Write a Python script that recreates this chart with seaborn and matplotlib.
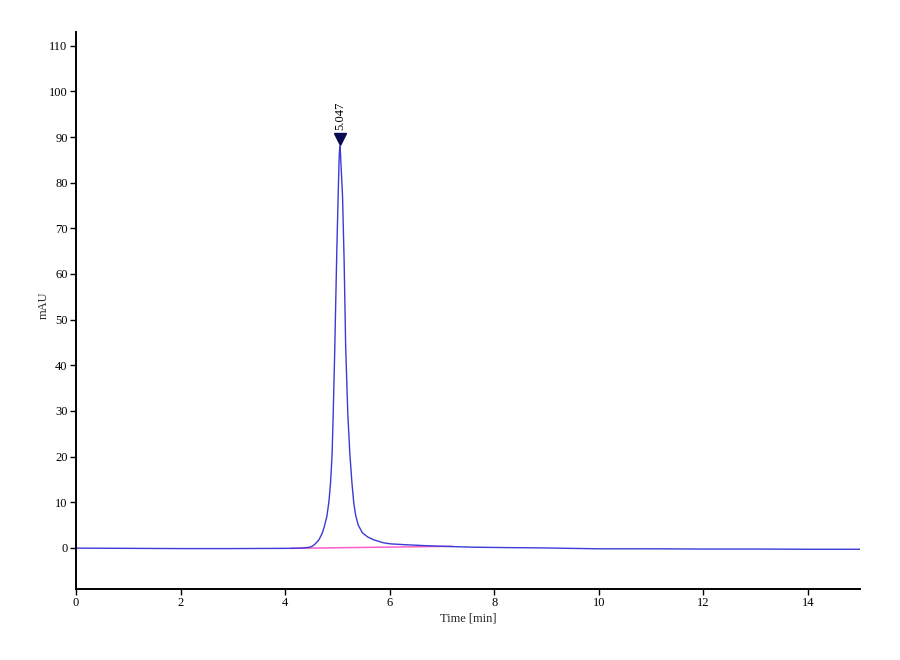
import matplotlib
matplotlib.use("Agg")
import matplotlib.pyplot as plt
import seaborn as sns
import pandas as pd

# chromatogram trace (time in min, signal in mAU)
time_min = [0, 1, 2, 3, 4, 4.3, 4.45, 4.52, 4.58, 4.65, 4.71, 4.75, 4.80, 4.84,
            4.87, 4.90, 4.92, 4.95, 4.97, 4.99, 5.02, 5.035, 5.047, 5.06, 5.07,
            5.10, 5.13, 5.16, 5.20, 5.24, 5.28, 5.315, 5.35, 5.40, 5.48, 5.58,
            5.70, 5.89, 6.02, 6.3, 6.66, 7.1, 7.62, 8.2, 8.9, 10.0, 11.0, 12.0,
            13.0, 14.0, 15.0]
signal_mau = [-0.05, -0.1, -0.15, -0.15, -0.1, -0.05, 0.1, 0.35, 0.9, 1.8, 3.2,
              4.6, 6.9, 10.2, 14.2, 20.5, 28.7, 43.0, 54.0, 65.0, 79.0, 85.5,
              88.0, 86.5, 84.0, 77.0, 63.0, 44.0, 29.5, 20.5, 14.2, 9.8, 7.2,
              5.0, 3.3, 2.4, 1.75, 1.1, 0.88, 0.7, 0.5, 0.32, 0.15, 0.07, 0.0,
              -0.2, -0.2, -0.25, -0.25, -0.3, -0.3]

# integration baseline under the peak
base_time = [4.1, 7.2]
base_mau = [-0.1, 0.35]

peak_time = 5.047
peak_height = 88.0
peak_label = "5.047"

sns.set_style("ticks")
plt.rcParams["font.family"] = ["Liberation Serif", "DejaVu Serif"]

trace = pd.DataFrame({"t": time_min, "mau": signal_mau})
baseline = pd.DataFrame({"t": base_time, "mau": base_mau})

fig = plt.figure(figsize=(9, 6.6), dpi=100)
ax = fig.add_axes([0.0844, 0.1076, 0.8712, 0.8439])

sns.lineplot(data=baseline, x="t", y="mau", ax=ax, color="#ff5fc8",
             linewidth=1.1, estimator=None, sort=False)
sns.lineplot(data=trace, x="t", y="mau", ax=ax, color="#3a3ad6",
             linewidth=1.0, estimator=None, sort=False)

# peak marker and retention time label
ax.plot([peak_time], [peak_height + 1.6], marker="v", markersize=8,
        color="#0a0a50", linestyle="none")
ax.text(peak_time, peak_height + 3.6, peak_label, rotation=90,
        ha="center", va="bottom", fontsize=9, color="black")

ax.set_xlim(0, 15)
ax.set_ylim(-9, 113)
ax.set_xticks(range(0, 15, 2))
ax.set_yticks(range(0, 111, 10))
ax.set_xlabel("Time [min]", fontsize=9, labelpad=2)
ax.set_ylabel("mAU", fontsize=9)
ax.yaxis.set_label_coords(-0.034, 0.51)
ax.tick_params(labelsize=9, length=4, width=1, pad=2, colors="black")

for side in ["top", "right"]:
    ax.spines[side].set_visible(False)
for side in ["left", "bottom"]:
    ax.spines[side].set_linewidth(1.4)
    ax.spines[side].set_color("black")

fig.savefig("out.png", dpi=100, facecolor="white")
